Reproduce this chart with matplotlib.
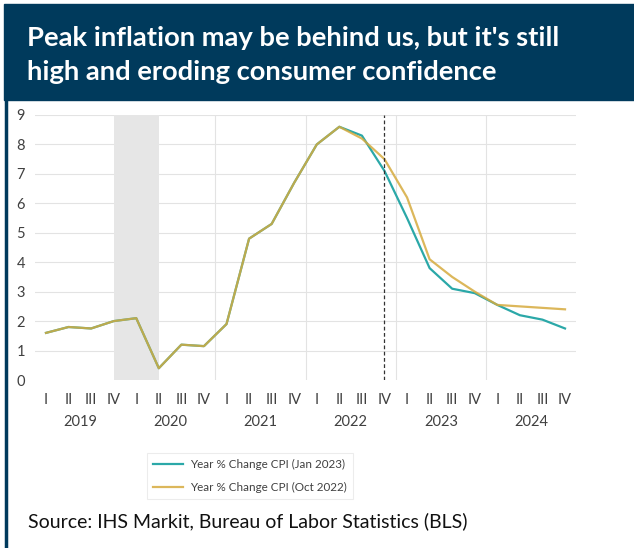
import matplotlib.pyplot as plt
from matplotlib.patches import Rectangle
from matplotlib.lines import Line2D
import matplotlib.transforms as mtransforms

NAVY = '#003a5c'
TEAL = '#2ba8a8'
GOLD = '#d6ab3e'

years = ['2019', '2020', '2021', '2022', '2023', '2024']
quarters = ['I', 'II', 'III', 'IV']

# Year % change CPI, quarterly 2019 Q1 .. 2024 Q4
cpi_oct22 = [1.6, 1.8, 1.75, 2.0, 2.1, 0.4, 1.2, 1.15, 1.9, 4.8, 5.3, 6.7,
             8.0, 8.6, 8.2, 7.5, 6.2, 4.1, 3.5, 3.0, 2.55, 2.5, 2.45, 2.4]
cpi_jan23 = [1.6, 1.8, 1.75, 2.0, 2.1, 0.4, 1.2, 1.15, 1.9, 4.8, 5.3, 6.7,
             8.0, 8.6, 8.3, 7.1, 5.5, 3.8, 3.1, 2.95, 2.55, 2.2, 2.05, 1.75]

labels = [q for _ in years for q in quarters]
x = list(range(len(labels)))

fig = plt.figure(figsize=(6.34, 5.48), dpi=100)
plt.rcParams['font.family'] = ['Lato', 'DejaVu Sans']

# header band and left border
fig.patches.append(Rectangle((4 / 634, 1 - 100 / 548), 1, 96 / 548,
                             transform=fig.transFigure, color=NAVY, zorder=0))
fig.add_artist(Line2D([5.5 / 634, 5.5 / 634], [0, 1 - 100 / 548],
                      transform=fig.transFigure, color=NAVY, lw=2.5))
fig.text(27 / 634, 1 - 38 / 548, "Peak inflation may be behind us, but it's still",
         color='white', fontsize=19.7, fontweight='bold', va='center')
fig.text(27 / 634, 1 - 72 / 548, "high and eroding consumer confidence",
         color='white', fontsize=19.7, fontweight='bold', va='center')

ax = fig.add_axes([34.7 / 634, 168 / 548, 541.6 / 634, 265 / 548])
ax.set_xlim(-0.5, 23.5)
ax.set_ylim(0, 9)

ax.axvspan(3, 5, color='#e6e6e6', zorder=1, lw=0)
for v in [7.5, 11.5, 15.5, 19.5]:
    ax.axvline(v, color='#e3e3e3', lw=0.8, zorder=0)
for h in range(1, 10):
    ax.axhline(h, color='#e3e3e3', lw=0.8, zorder=0)
ax.axvline(15, color='#333333', lw=0.9, ls=(0, (3, 2)), zorder=4)

ax.plot(x, cpi_jan23, color=TEAL, lw=1.6, zorder=2, label='Year % Change CPI (Jan 2023)')
ax.plot(x, cpi_oct22, color=GOLD, lw=1.6, zorder=3, alpha=0.85,
        label='Year % Change CPI (Oct 2022)')

for s in ax.spines.values():
    s.set_visible(False)
ax.set_yticks(range(0, 10))
ax.set_xticks(x)
ax.set_xticklabels(labels)
ax.tick_params(length=0, labelsize=10.5, colors='#404040')
ax.tick_params(axis='y', pad=7)
ax.tick_params(axis='x', pad=9)

trans = mtransforms.blended_transform_factory(ax.transData, fig.transFigure)
for i, yr in enumerate(years):
    ax.text(i * 4 + 1.5, 1 - 422 / 548, yr, transform=trans, ha='center',
            va='center', fontsize=10.5, color='#404040')

leg = fig.legend(loc='center', bbox_to_anchor=(250 / 634, 1 - 476 / 548),
                 fontsize=8.4, frameon=True, fancybox=False, handlelength=2.6,
                 labelspacing=0.95, borderpad=0.55, handletextpad=0.6,
                 labelcolor='#404040')
leg.get_frame().set_edgecolor('#e8e8e8')
leg.get_frame().set_linewidth(0.8)

fig.text(28 / 634, 1 - 521 / 548, 'Source: IHS Markit, Bureau of Labor Statistics (BLS)',
         fontsize=14, va='center', color='#111111')

fig.savefig('out.png', dpi=100)
